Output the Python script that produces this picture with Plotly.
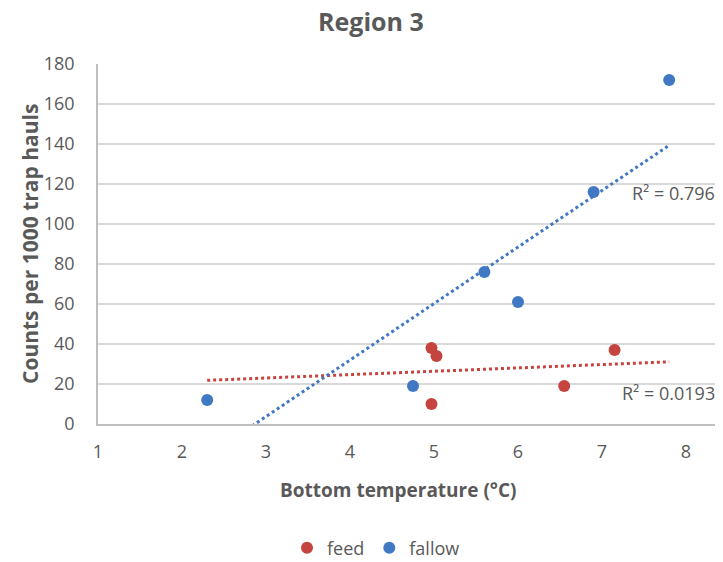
import numpy as np
import plotly.graph_objects as go

# Data
feed_x = [4.97, 5.03, 4.97, 6.55, 7.15]
feed_y = [38, 34, 10, 19, 37]
fallow_x = [2.3, 4.75, 5.6, 6.0, 6.9, 7.8]
fallow_y = [12, 19, 76, 61, 116, 172]
r2_labels = ["R² = 0.0193", "R² = 0.796"]
x_ticks = [1, 2, 3, 4, 5, 6, 7, 8]
y_ticks = [0, 20, 40, 60, 80, 100, 120, 140, 160, 180]

RED = "#C5443F"
BLUE = "#4178C4"
GRAY = "#595959"
FONT = "Open Sans"

all_x = feed_x + fallow_x
x_line = np.array([min(all_x), max(all_x)])

fig = go.Figure()

# trendlines (linear least squares)
for xs, ys, col in [(feed_x, feed_y, RED), (fallow_x, fallow_y, BLUE)]:
    m, b = np.polyfit(xs, ys, 1)
    fig.add_trace(go.Scatter(x=x_line, y=m * x_line + b, mode="lines",
                             line=dict(color=col, width=3, dash="dot"),
                             showlegend=False, hoverinfo="skip"))

fig.add_trace(go.Scatter(x=feed_x, y=feed_y, mode="markers", name="feed",
                         marker=dict(color=RED, size=12)))
fig.add_trace(go.Scatter(x=fallow_x, y=fallow_y, mode="markers", name="fallow",
                         marker=dict(color=BLUE, size=12)))

fig.add_annotation(x=7.21, y=15.5, xref="x", yref="y", text=r2_labels[0],
                   showarrow=False, xanchor="left", yanchor="middle",
                   font=dict(family=FONT, size=18, color=GRAY))
fig.add_annotation(x=7.33, y=115.7, xref="x", yref="y", text=r2_labels[1],
                   showarrow=False, xanchor="left", yanchor="middle",
                   font=dict(family=FONT, size=18, color=GRAY))

# chart title
fig.add_annotation(x=(371 - 98) / 625, y=(424 - 21) / 360, xref="paper", yref="paper",
                   text="<b>Region 3</b>", showarrow=False,
                   xanchor="center", yanchor="middle",
                   font=dict(family=FONT, size=25, color=GRAY))

# axis titles
fig.add_annotation(x=(398 - 98) / 625, y=(424 - 490) / 360, xref="paper", yref="paper",
                   text="<b>Bottom temperature (°C)</b>", showarrow=False,
                   xanchor="center", yanchor="middle",
                   font=dict(family=FONT, size=19, color=GRAY))
fig.add_annotation(x=(30 - 98) / 625, y=0.5, xref="paper", yref="paper",
                   text="<b>Counts per 1000 trap hauls</b>", showarrow=False,
                   textangle=-90, xanchor="center", yanchor="middle",
                   font=dict(family=FONT, size=21, color=GRAY))

fig.update_layout(
    width=723, height=562,
    margin=dict(l=90, r=8, t=56, b=146, autoexpand=False),
    paper_bgcolor="white", plot_bgcolor="white",
    font=dict(family=FONT, color=GRAY),
    xaxis=dict(range=[1, 1 + 625 / 84], tickmode="array", tickvals=x_ticks,
               showgrid=False, zeroline=False, showline=True,
               linecolor="#BFBFBF", linewidth=1.5,
               ticks="outside", ticklen=11, tickcolor="rgba(0,0,0,0)",
               tickfont=dict(family=FONT, size=18, color=GRAY)),
    yaxis=dict(range=[0, 180], tickmode="array", tickvals=y_ticks,
               showgrid=True, gridcolor="#D9D9D9", gridwidth=1.5,
               zeroline=False, showline=True, linecolor="#BFBFBF", linewidth=1.5,
               ticks="outside", ticklen=18, tickcolor="rgba(0,0,0,0)",
               tickfont=dict(family=FONT, size=18, color=GRAY)),
    legend=dict(orientation="h", x=(376 - 98) / 625, xref="paper",
                xanchor="center", y=(424 - 548) / 360, yanchor="middle",
                font=dict(family=FONT, size=18, color=GRAY),
                itemwidth=30),
)

fig.write_html("out.html")
